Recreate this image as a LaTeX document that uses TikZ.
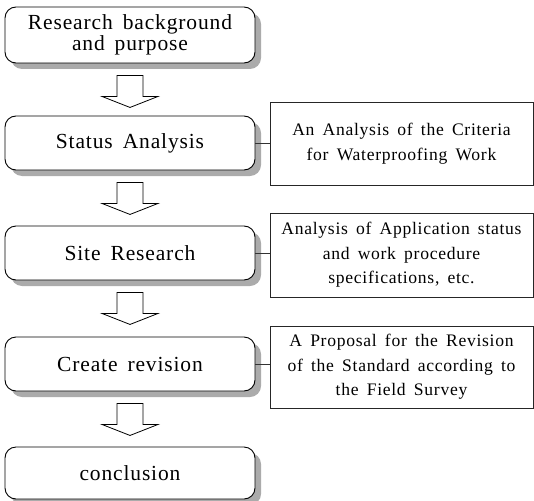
\documentclass[tikz,border=0pt]{standalone}
\usepackage{fontspec}
\setmainfont{Liberation Serif}[LetterSpace=4,WordSpace=1.6]
\usetikzlibrary{shadows,calc}
\begin{document}
\begin{tikzpicture}[x=1pt,y=-1pt,
  stepbox/.style={draw=black, line width=0.9pt, rounded corners=11pt, fill=white,
    minimum width=250pt, align=center, inner sep=0pt,
    font=\fontsize{21.5}{21}\selectfont,
    drop shadow={shadow xshift=6pt, shadow yshift=-6pt, fill=black!33, opacity=1}},
  notebox/.style={draw=black!85, line width=0.9pt, fill=white, minimum width=263pt,
    align=center, inner sep=0pt, font=\fontsize{17.6}{24.5}\selectfont},
  blockarrow/.style={draw=black, line width=0.8pt, fill=white},
  link/.style={draw=black!80, line width=0.9pt}]
\useasboundingbox (0,0) rectangle (534,500);
\node[stepbox, minimum height=56pt] (l1) at (130,35) {Research background\\and purpose};
\node[stepbox, minimum height=54pt] (l2) at (130,143) {Status Analysis};
\node[stepbox, minimum height=54pt] (l3) at (130,253) {Site Research};
\node[stepbox, minimum height=54pt] (l4) at (130,364) {Create revision};
\node[stepbox, minimum height=52pt] (l5) at (130,473) {conclusion};
\node[notebox, minimum height=83pt] (r2) at (401.5,143.5) {An Analysis of the Criteria\\for Waterproofing Work};
\node[notebox, minimum height=84pt] (r3) at (401.5,255) {Analysis of Application status\\and work procedure\\specifications, etc.};
\node[notebox, minimum height=82pt] (r4) at (401.5,367) {A Proposal for the Revision\\of the Standard according to\\the Field Survey};
\foreach \a in {l1,l2,l3,l4}{
  \draw[blockarrow] ($(\a.south)+(-13,12)$) -- ++(0,21) -- ++(-15,0) -- ++(28,11)
    -- ++(28,-11) -- ++(-15,0) -- ++(0,-21) -- cycle;
}
\foreach \a/\b in {l2/r2,l3/r3,l4/r4}{
  \draw[link] (\a.east) -- (\a.east -| \b.west);
}
\end{tikzpicture}
\end{document}
